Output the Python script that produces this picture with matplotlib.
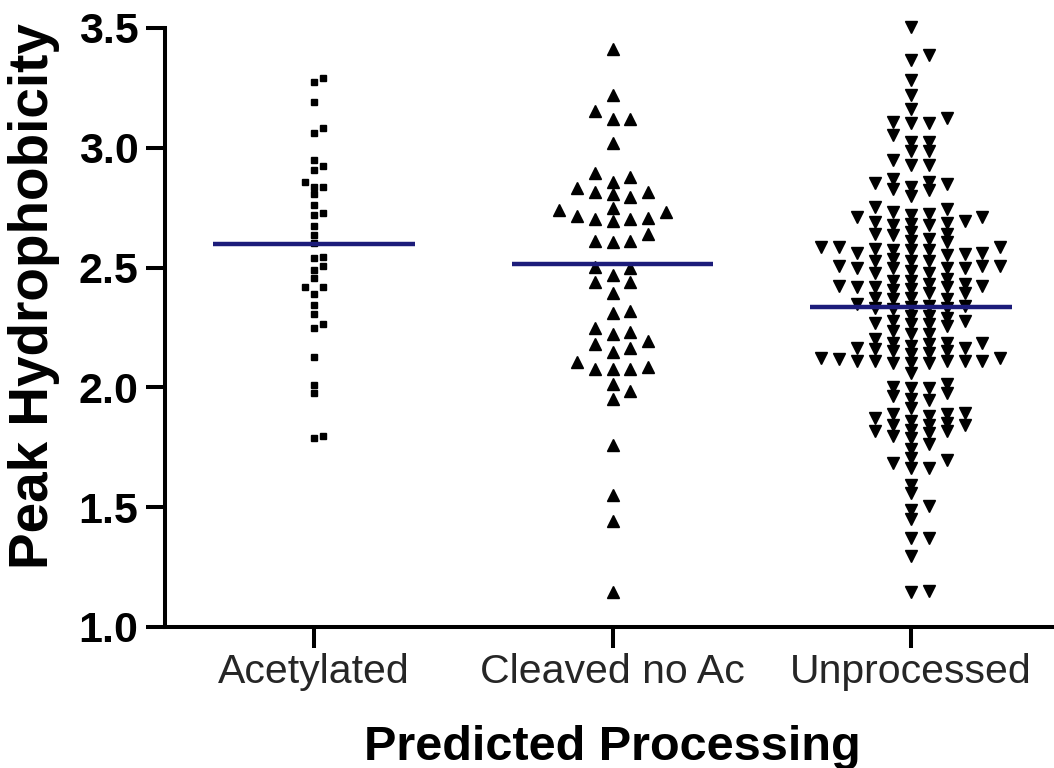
import numpy as np
import matplotlib
matplotlib.use('Agg')
import matplotlib.pyplot as plt

categories = ['Acetylated', 'Cleaved no Ac', 'Unprocessed']

acetylated = [3.293, 3.273, 3.191, 3.084, 3.063, 2.947, 2.909, 2.926, 2.838, 2.856,
              2.838, 2.808, 2.763, 2.720, 2.727, 2.675, 2.636, 2.601, 2.538, 2.544,
              2.508, 2.490, 2.456, 2.417, 2.417, 2.389, 2.345, 2.308, 2.264, 2.246,
              2.127, 2.010, 1.975, 1.789, 1.796]

cleaved = [3.411, 3.219, 3.121, 3.121, 3.152, 3.020, 2.895, 2.880, 2.859, 2.831,
           2.814, 2.796, 2.808, 2.814, 2.748, 2.734, 2.706, 2.703, 2.696, 2.703,
           2.714, 2.741, 2.612, 2.605, 2.612, 2.642, 2.504, 2.497, 2.441, 2.441,
           2.469, 2.395, 2.312, 2.319, 2.231, 2.249, 2.224, 2.194, 2.166, 2.180,
           2.149, 2.085, 2.075, 2.075, 2.075, 2.106, 2.013, 1.987, 1.950, 1.758,
           1.549, 1.441, 1.148]

unprocessed = [3.505, 3.365, 3.386, 3.282, 3.222, 3.163, 3.103, 3.103, 3.107, 3.126,
               3.054, 3.023, 3.023, 2.988, 2.988, 2.951, 2.929, 2.929,
               2.859, 2.854, 2.822, 2.836, 2.849, 2.798, 2.868, 2.829, 2.746, 2.751,
               2.724, 2.710, 2.696, 2.682, 2.692, 2.710, 2.720, 2.734,
               2.678, 2.678, 2.686, 2.647, 2.640, 2.636, 2.640,
               2.619, 2.605, 2.584, 2.563, 2.577, 2.556, 2.573, 2.552, 2.573, 2.573,
               2.584, 2.563, 2.584, 2.612,
               2.529, 2.508, 2.500, 2.500, 2.529, 2.487, 2.529, 2.479, 2.500, 2.479,
               2.508, 2.500, 2.508, 2.536,
               2.452, 2.445, 2.431, 2.425, 2.408, 2.417, 2.395, 2.417, 2.395, 2.417,
               2.410, 2.425, 2.431, 2.445,
               2.375, 2.368, 2.341, 2.335, 2.331, 2.328, 2.331, 2.341, 2.347, 2.368, 2.375,
               2.298, 2.291, 2.270, 2.263, 2.277, 2.236, 2.222, 2.222, 2.256, 2.263,
               2.277, 2.298,
               2.187, 2.180, 2.159, 2.124, 2.152, 2.110, 2.201, 2.166, 2.145, 2.138,
               2.124, 2.152, 2.103, 2.166, 2.103, 2.173, 2.110, 2.187, 2.110, 2.187,
               2.117, 2.110, 2.110, 2.103, 2.061,
               2.013, 2.000, 1.977, 1.950, 1.946, 1.964, 1.999, 1.999,
               1.915, 1.887, 1.880, 1.824, 1.860, 1.809, 1.845, 1.789, 1.845, 1.762,
               1.845, 1.796, 1.852, 1.817, 1.873, 1.817, 1.887, 1.894, 1.741,
               1.705, 1.684, 1.663, 1.663, 1.695,
               1.594, 1.559, 1.503, 1.452, 1.490, 1.371, 1.371, 1.297, 1.144, 1.151]

medians = [2.598, 2.515, 2.335]
yticks = [1.0, 1.5, 2.0, 2.5, 3.0, 3.5]
ytick_labels = ['1.0', '1.5', '2.0', '2.5', '3.0', '3.5']


def swarm_offsets(values, dx, dy):
    vals = np.asarray(values, float)
    order = np.argsort(vals, kind='stable')
    steps = [0]
    for m in range(1, 80):
        steps += [m, -m]
    px, py = [], []
    out = np.zeros(len(vals))
    for i in order:
        y = vals[i]
        x = 0.0
        for m in steps:
            x = m * dx / 2.0
            ok = True
            for qx, qy in zip(px, py):
                if abs(qx - x) < dx - 1e-9 and abs(qy - y) < dy - 1e-9:
                    ok = False
                    break
            if ok:
                break
        out[i] = x
        px.append(x)
        py.append(y)
    return out


plt.rcParams['font.family'] = ['Liberation Sans', 'DejaVu Sans']

fig = plt.figure(figsize=(10.54, 7.68), dpi=100)
ax = fig.add_axes([165 / 1054, 141 / 768, 895 / 1054, 599 / 768])

groups = [acetylated, cleaved, unprocessed]
styles = [dict(marker='s', ms=4.5, dx=0.03, dy=0.03),
          dict(marker='^', ms=9, dx=0.06, dy=0.05),
          dict(marker='v', ms=9, dx=0.06, dy=0.035)]

for i, (vals, st) in enumerate(zip(groups, styles)):
    offs = swarm_offsets(vals, st['dx'], st['dy'])
    ax.plot(i + offs, vals, linestyle='none', marker=st['marker'],
            ms=st['ms'], color='black', mec='black', clip_on=False, zorder=3)
    ax.plot([i - 0.338, i + 0.338], [medians[i], medians[i]], color='#1c1c7a',
            lw=3.2, solid_capstyle='butt', zorder=4)

ax.set_xlim(-0.5, 2.5)
ax.set_ylim(1.0, 3.5)
ax.set_xticks(range(len(categories)))
ax.set_xticklabels(categories, fontsize=29.5, color='#262626')
ax.set_yticks(yticks)
ax.set_yticklabels(ytick_labels, fontsize=31, fontweight='bold')

for side in ['top', 'right']:
    ax.spines[side].set_visible(False)
for side in ['left', 'bottom']:
    ax.spines[side].set_linewidth(2.9)
ax.tick_params(axis='y', length=14, width=2.9, pad=5)
ax.tick_params(axis='x', length=15, width=2.9, pad=4)

ax.set_ylabel('Peak Hydrophobicity', fontsize=39.5, fontweight='bold')
ax.set_xlabel('Predicted Processing', fontsize=35, fontweight='bold')
ax.yaxis.set_label_coords(-0.117, 0.553)
ax.xaxis.set_label_coords(0.4994, -0.163)

fig.savefig('out.png', dpi=100)
